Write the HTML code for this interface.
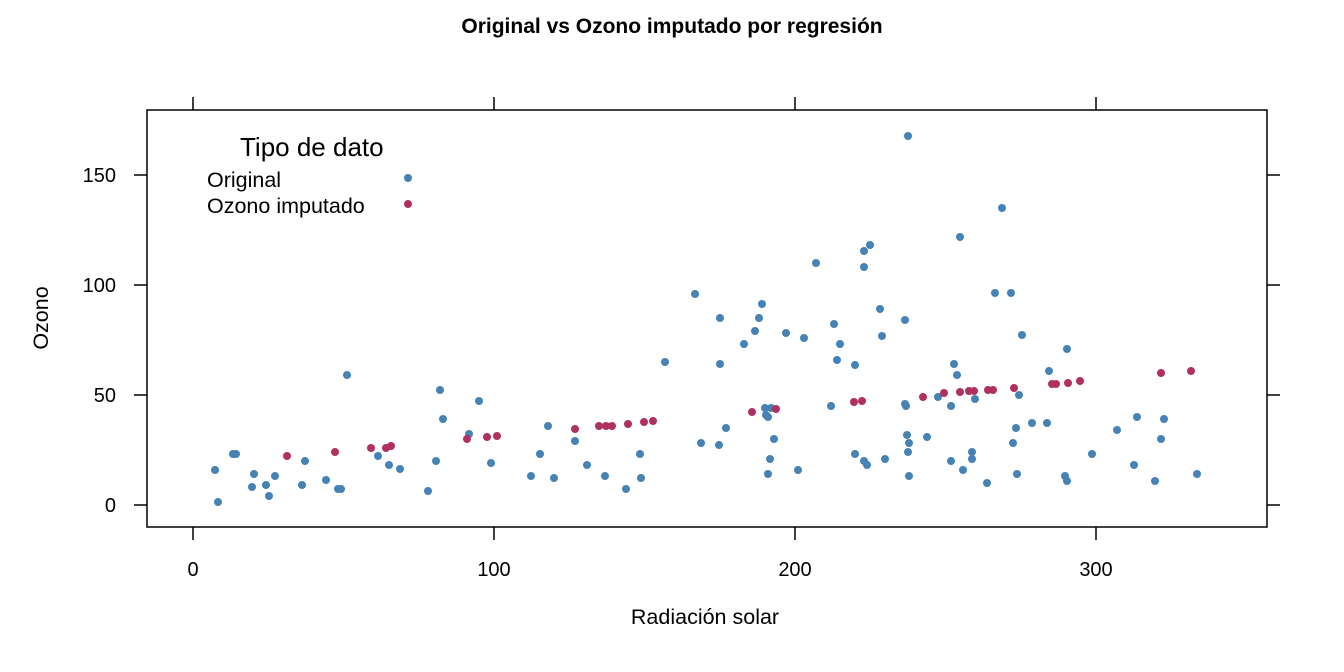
<!DOCTYPE html>
<html><head><meta charset="utf-8"><style>body{margin:0;background:#fff}svg{display:block}text{font-family:"Liberation Sans",sans-serif;fill:#000}</style></head><body>
<svg width="1344" height="672" viewBox="0 0 1344 672">
<text x="672" y="33" font-size="21" font-weight="bold" text-anchor="middle">Original vs Ozono imputado por regresión</text>
<rect x="147" y="110" width="1120" height="417" fill="none" stroke="#000" stroke-width="1.5"/>
<g stroke="#000" stroke-width="1.5">
<line x1="193" y1="110" x2="193" y2="97"/><line x1="494" y1="110" x2="494" y2="97"/><line x1="795" y1="110" x2="795" y2="97"/><line x1="1096" y1="110" x2="1096" y2="97"/>
<line x1="193" y1="527" x2="193" y2="540"/><line x1="494" y1="527" x2="494" y2="540"/><line x1="795" y1="527" x2="795" y2="540"/><line x1="1096" y1="527" x2="1096" y2="540"/>
<line x1="147" y1="505" x2="134" y2="505"/><line x1="147" y1="395" x2="134" y2="395"/><line x1="147" y1="285" x2="134" y2="285"/><line x1="147" y1="175" x2="134" y2="175"/>
<line x1="1267" y1="505" x2="1280" y2="505"/><line x1="1267" y1="395" x2="1280" y2="395"/><line x1="1267" y1="285" x2="1280" y2="285"/><line x1="1267" y1="175" x2="1280" y2="175"/>
</g>
<g font-size="20" text-anchor="middle">
<text x="193" y="576">0</text><text x="494" y="576">100</text><text x="795" y="576">200</text><text x="1096" y="576">300</text>
</g>
<g font-size="20" text-anchor="end">
<text x="116" y="512">0</text><text x="116" y="402">50</text><text x="116" y="292">100</text><text x="116" y="182">150</text>
</g>
<text x="705" y="624" font-size="21.5" text-anchor="middle">Radiación solar</text>
<text transform="translate(48,318) rotate(-90)" font-size="21.5" text-anchor="middle">Ozono</text>
<text x="240" y="156" font-size="26">Tipo de dato</text>
<text x="207" y="187" font-size="21.5">Original</text>
<text x="207" y="213" font-size="21.5">Ozono imputado</text>
<circle cx="408" cy="178" r="4" fill="#4682B4"/><circle cx="408" cy="204" r="4" fill="#B03060"/>
<g fill="#4682B4" id="b"></g>
<g fill="#B03060" id="r"></g>
<script>
var B=[[215,470],[218,502],[233,454],[236,454],[252,487],[254,474],[266,485],[269,496],[275,476],[302,485],[305,461],[326,480],[338,489],[341,489],[347,375],[378,456],[389,465],[400,469],[428,491],[436,461],[440,390],[443,419],[469,434],[479,401],[491,463],[531,476],[540,454],[548,426],[554,478],[575,441],[587,465],[605,476],[626,489],[640,454],[641,478],[665,362],[695,294],[701,443],[719,445],[720,318],[720,364],[726,428],[744,344],[755,331],[759,318],[762,304],[765,408],[766,415],[768,417],[770,459],[768,474],[771,408],[774,439],[786,333],[798,470],[804,338],[816,263],[831,406],[834,324],[837,360],[840,344],[855,365],[855,454],[864,251],[864,267],[870,245],[864,461],[867,465],[880,309],[882,336],[885,459],[905,320],[905,404],[907,435],[906,406],[909,443],[908,452],[908,136],[909,476],[927,437],[938,397],[951,406],[951,461],[954,364],[957,375],[960,237],[963,470],[972,452],[972,459],[975,399],[987,483],[995,293],[1002,208],[1011,293],[1013,443],[1016,428],[1017,474],[1019,395],[1022,335],[1032,423],[1047,423],[1049,371],[1065,476],[1067,349],[1067,481],[1092,454],[1117,430],[1134,465],[1137,417],[1155,481],[1161,439],[1164,419],[1197,474]];
var R=[[287,456],[335,452],[371,448],[386,448],[391,446],[467,439],[487,437],[497,436],[575,429],[599,426],[606,426],[612,426],[628,424],[644,422],[653,421],[752,412],[776,409],[854,402],[862,401],[923,397],[944,393],[960,392],[969,391],[974,391],[988,390],[993,390],[1014,388],[1052,384],[1056,384],[1068,383],[1080,381],[1161,373],[1191,371]];
function d(id,a){var g=document.getElementById(id);a.forEach(function(p){var c=document.createElementNS("http://www.w3.org/2000/svg","circle");c.setAttribute("cx",p[0]);c.setAttribute("cy",p[1]);c.setAttribute("r",4);g.appendChild(c);});}
d("b",B);d("r",R);
</script>
</svg>
</body></html>
